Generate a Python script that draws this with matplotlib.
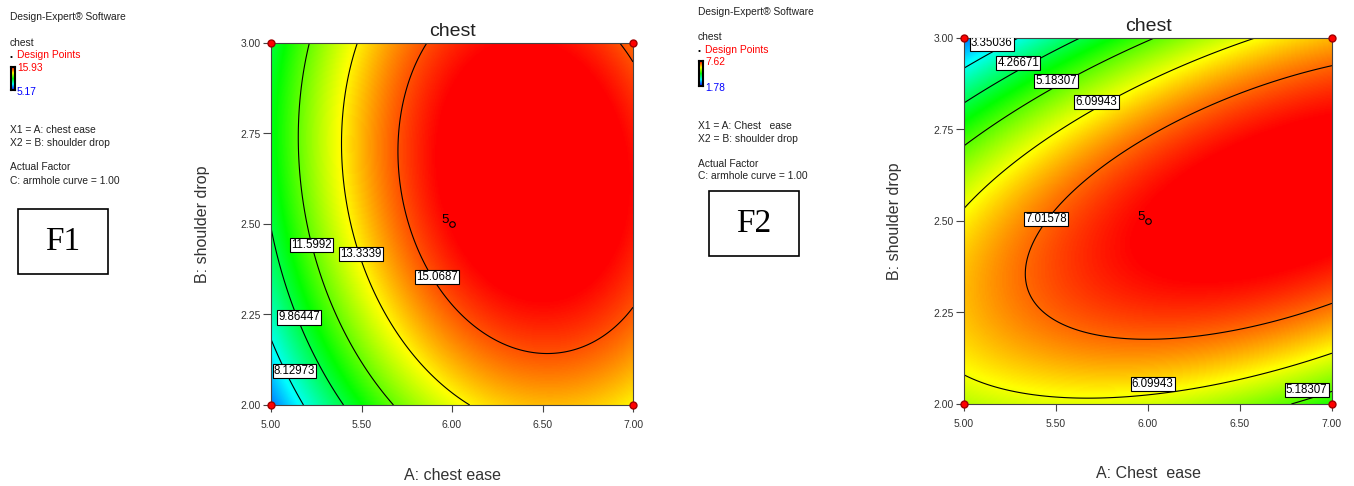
import numpy as np
import matplotlib
matplotlib.use("Agg")
import matplotlib.pyplot as plt
from matplotlib.colors import LinearSegmentedColormap, Normalize
from matplotlib.patches import Rectangle

plt.rcParams['font.family'] = ['Liberation Sans', 'DejaVu Sans']

# ---- data ----
ticks_a = [5.00, 5.50, 6.00, 6.50, 7.00]
ticks_b = [2.00, 2.25, 2.50, 2.75, 3.00]
design_a = [5.0, 7.0, 5.0, 7.0]
design_b = [2.0, 2.0, 3.0, 3.0]
center_pt = (6.0, 2.5, 5)

# quadratic response in coded units a=(A-6), b=(B-2.5)/0.5:
# [const, a, b, ab, a^2, b^2]
f1_coef = [15.95, 2.935, 1.22, -0.48, -3.116, -1.70]
f1_levels = [8.12973, 9.86447, 11.5992, 13.3339, 15.0687]
f1_range = (5.17, 15.93)

f2_coef = [7.652, 0.805, -0.399, 1.253, -0.624, -2.140]
f2_levels = [3.35036, 4.26671, 5.18307, 6.09943, 7.01578]
f2_range = (1.78, 7.62)

cmap = LinearSegmentedColormap.from_list(
    "de", ["#0000ff", "#00ffff", "#00ff00", "#ffff00", "#ff0000"])

W, H = 1354, 486
fig = plt.figure(figsize=(W / 100, H / 100), dpi=100)


def px(x, y):
    return x / W, 1 - y / H


def surface(coef, n=300):
    A = np.linspace(5, 7, n)
    B = np.linspace(2, 3, n)
    AA, BB = np.meshgrid(A, B)
    a = AA - 6.0
    b = (BB - 2.5) / 0.5
    c0, c1, c2, c12, c11, c22 = coef
    return AA, BB, c0 + c1 * a + c2 * b + c12 * a * b + c11 * a * a + c22 * b * b


def panel(rect, coef, levels, vrange, label_pos, xlab, ylab_x, xlab_y):
    ax = fig.add_axes(rect)
    AA, BB, Z = surface(coef)
    norm = Normalize(*vrange)
    ax.imshow(Z, origin='lower', extent=[5, 7, 2, 3], aspect='auto', cmap=cmap, norm=norm,
              interpolation='bilinear')
    ax.contour(AA, BB, Z, levels=levels, colors='black', linewidths=0.8)
    for lev, (x, y) in zip(levels, label_pos):
        for xx, yy in ([(x, y)] if np.ndim(x) == 0 else zip(x, y)):
            ax.text(xx, yy, '%.6g' % lev, fontsize=8.3, ha='center', va='center', clip_on=True,
                    bbox=dict(boxstyle='square,pad=0.1', fc='white', ec='black', lw=0.8))
    ax.plot(design_a, design_b, 'o', color='red', mec='#a00000', ms=5, clip_on=False, zorder=5)
    ax.plot(center_pt[0], center_pt[1], 'o', mfc='none', mec='black', ms=4, mew=0.8)
    ax.text(center_pt[0] - 0.018, center_pt[1] + 0.012, str(center_pt[2]), fontsize=9.5,
            ha='right', va='center')
    ax.set_xlim(5, 7)
    ax.set_ylim(2, 3)
    ax.set_xticks(ticks_a)
    ax.set_yticks(ticks_b)
    ax.set_xticklabels(['%.2f' % t for t in ticks_a])
    ax.set_yticklabels(['%.2f' % t for t in ticks_b])
    ax.tick_params(axis='both', direction='out', labelsize=7.5, colors='#444', labelcolor='#333', width=0.8)
    ax.tick_params(axis='x', length=5, pad=6)
    ax.tick_params(axis='y', length=6, pad=1.5)
    for s in ax.spines.values():
        s.set_color('#444')
        s.set_linewidth(0.8)
    ax.set_title('chest', fontsize=14, pad=5, color='#222')
    ax.set_xlabel(xlab, fontsize=11.5, color='#333')
    ax.set_ylabel('B: shoulder drop', fontsize=11.5, color='#333')
    ax.xaxis.set_label_coords(0.5, xlab_y)
    ax.xaxis.label.set_va('center')
    ax.yaxis.set_label_coords(ylab_x, 0.5)
    ax.yaxis.label.set_va('center')
    return ax


# label boxes sit where Design-Expert put them
f1_label_pos = [(5.13, 2.094), (5.156, 2.242), (5.225, 2.442), (5.497, 2.417), (5.917, 2.354)]
f2_label_pos = [(5.15, 2.985), (5.295, 2.931), ([5.50, 6.862], [2.883, 2.038]),
                ([5.72, 6.025], [2.826, 2.055]), (5.446, 2.505)]

l, t = px(271, 43)
r, b = px(633, 405)
panel([l, b, r - l, t - b], f1_coef, f1_levels, f1_range, f1_label_pos, 'A: chest ease', -0.188, -0.196)
l, t = px(964, 38)
r, b = px(1332, 404)
panel([l, b, r - l, t - b], f2_coef, f2_levels, f2_range, f2_label_pos, 'A: Chest  ease', -0.1875, -0.19)


def side_block(x0, ys, hi, lo, x1_text, box):
    y_sw, y_resp, y_dp, y_hi, y_lo, y_x1, y_x2, y_af, y_c = ys
    kw = dict(fontsize=7.4, va='center', ha='left', color='#222')
    fig.text(*px(x0, y_sw), 'Design-Expert® Software', **kw)
    fig.text(*px(x0, y_resp), 'chest', **kw)
    fig.text(*px(x0 + 7, y_dp), 'Design Points', **{**kw, 'color': 'red'})
    fig.text(*px(x0 + 7, y_hi), '%.2f' % hi, **{**kw, 'color': 'red'})
    fig.text(*px(x0 + 7, y_lo), '%.2f' % lo, **{**kw, 'color': 'blue'})
    fig.text(*px(x0, y_x1), x1_text, **kw)
    fig.text(*px(x0, y_x2), 'X2 = B: shoulder drop', **kw)
    fig.text(*px(x0, y_af), 'Actual Factor', **kw)
    fig.text(*px(x0, y_c), 'C: armhole curve = 1.00', **kw)
    fig.text(*px(x0 + 1, y_dp + 2), '\u2022', fontsize=6, va='center', ha='center', color='black')
    # small colour bar
    cl, ct = px(x0 + 1, y_hi - 1)
    cr, cb = px(x0 + 5, y_lo - 2)
    cax = fig.add_axes([cl, cb, cr - cl, ct - cb])
    cax.imshow(np.linspace(0, 1, 50).reshape(-1, 1), origin='lower', aspect='auto', cmap=cmap)
    cax.set_xticks([])
    cax.set_yticks([])
    for s in cax.spines.values():
        s.set_linewidth(1.5)
        s.set_color('black')
    bx0, by0, bx1, by1, name = box
    ll, tt = px(bx0, by0)
    rr, bb = px(bx1, by1)
    fig.patches.append(Rectangle((ll, bb), rr - ll, tt - bb, transform=fig.transFigure,
                                 fill=False, ec='black', lw=1.2))
    fig.text((ll + rr) / 2, (tt + bb) / 2, name, fontsize=24, family='Liberation Serif',
             ha='center', va='center', color='black')


side_block(10, (17, 43, 55, 68, 92, 130, 143, 167, 181), f1_range[1], f1_range[0],
           'X1 = A: chest ease', (18, 209, 108, 274, 'F1'))
side_block(698, (12, 37, 50, 62, 88, 126, 139, 164, 176), f2_range[1], f2_range[0],
           'X1 = A: Chest   ease', (709, 191, 799, 256, 'F2'))

fig.savefig('out.png', dpi=100)
